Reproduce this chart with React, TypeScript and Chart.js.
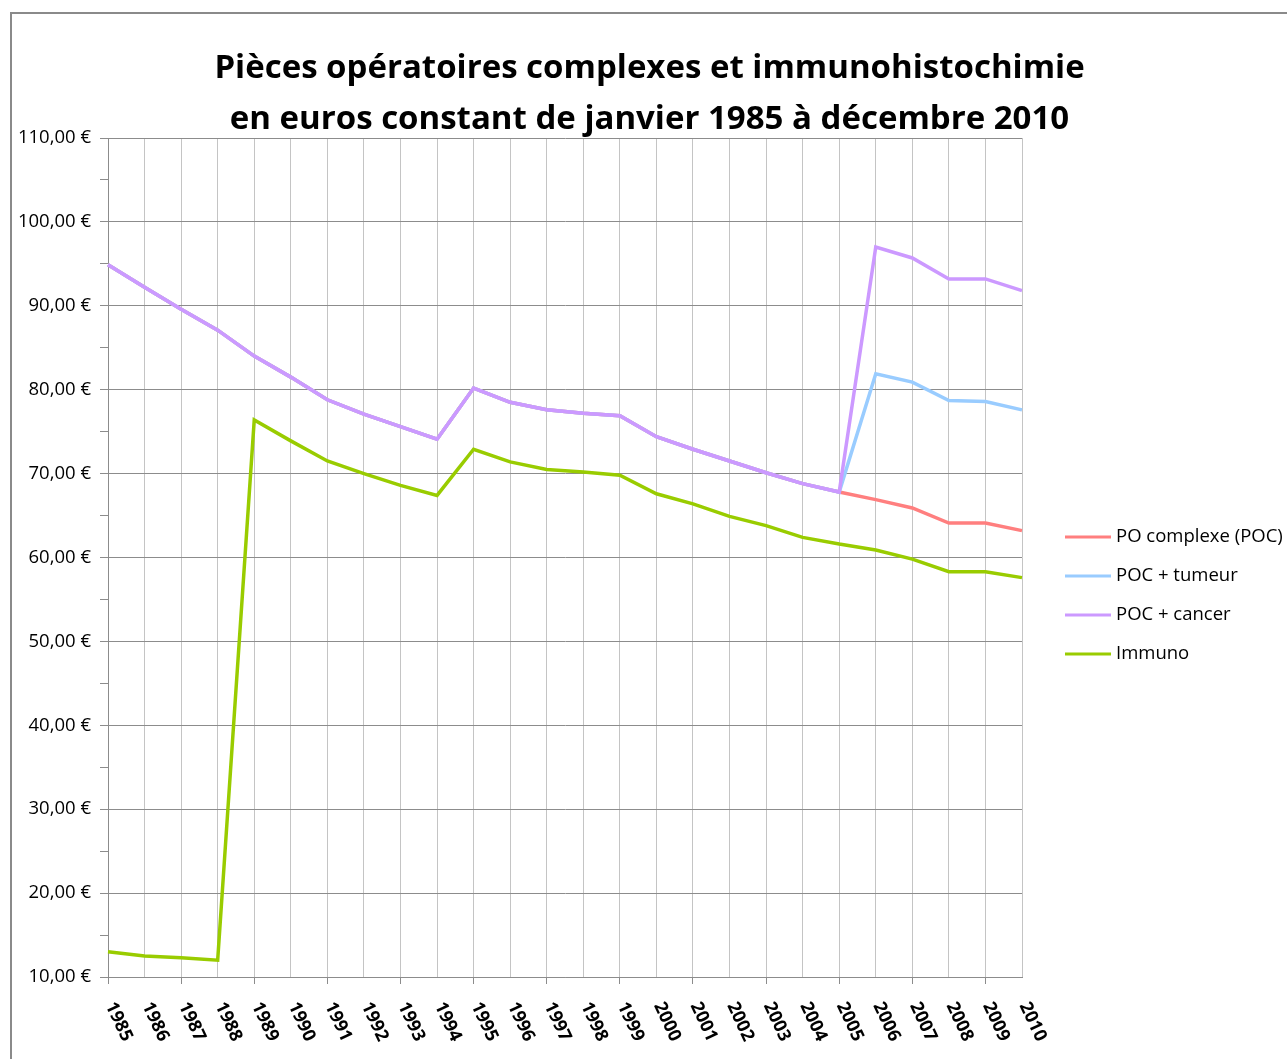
import React, { useEffect, useRef } from "react";
import { Chart, registerables } from "chart.js";

Chart.register(...registerables);

const categories = [
  "1985", "1986", "1987", "1988", "1989", "1990", "1991", "1992", "1993", "1994",
  "1995", "1996", "1997", "1998", "1999", "2000", "2001", "2002", "2003", "2004",
  "2005", "2006", "2007", "2008", "2009", "2010",
];

const pocComplexe = [
  94.9, 92.2, 89.6, 87.1, 84.0, 81.5, 78.8, 77.1, 75.6, 74.1,
  80.2, 78.5, 77.6, 77.2, 76.9, 74.4, 72.9, 71.5, 70.1, 68.8,
  67.8, 66.9, 65.9, 64.1, 64.1, 63.2,
];

const pocTumeur = [
  94.9, 92.2, 89.6, 87.1, 84.0, 81.5, 78.8, 77.1, 75.6, 74.1,
  80.2, 78.5, 77.6, 77.2, 76.9, 74.4, 72.9, 71.5, 70.1, 68.8,
  67.8, 81.9, 80.9, 78.7, 78.6, 77.6,
];

const pocCancer = [
  94.9, 92.2, 89.6, 87.1, 84.0, 81.5, 78.8, 77.1, 75.6, 74.1,
  80.2, 78.5, 77.6, 77.2, 76.9, 74.4, 72.9, 71.5, 70.1, 68.8,
  67.8, 97.0, 95.7, 93.2, 93.2, 91.8,
];

const immuno = [
  13.0, 12.5, 12.3, 12.0, 76.4, 73.9, 71.5, 70.0, 68.6, 67.4,
  72.9, 71.4, 70.5, 70.2, 69.8, 67.6, 66.4, 64.9, 63.8, 62.4,
  61.6, 60.9, 59.8, 58.3, 58.3, 57.6,
];

const seriesNames = ["PO complexe (POC)", "POC + tumeur", "POC + cancer", "Immuno"];
const seriesColors = ["#FF7F7F", "#99CCFF", "#CC99FF", "#99CC00"];

const titleLines = [
  "Pièces opératoires complexes et immunohistochimie",
  "en euros constant de janvier 1985 à décembre 2010",
];

const FONT = "'Open Sans', Lato, sans-serif";

const xLabelPlugin = {
  id: "xLabelPlugin",
  afterDraw(chart: any) {
    const xs = chart.scales.x;
    const ctx = chart.ctx;
    ctx.save();
    ctx.font = `bold 18px ${FONT}`;
    ctx.fillStyle = "#000";
    ctx.textAlign = "left";
    ctx.textBaseline = "middle";
    xs.ticks.forEach((t: any, i: number) => {
      const x = xs.getPixelForTick(i);
      ctx.save();
      ctx.translate(x + 2, xs.top + 26);
      ctx.rotate((65 * Math.PI) / 180);
      ctx.fillText(xs.getLabelForValue(t.value), 0, 0);
      ctx.restore();
    });
    ctx.restore();
  },
};

const legendPlugin = {
  id: "customLegend",
  afterDraw(chart: any) {
    const ctx = chart.ctx;
    const area = chart.chartArea;
    const x0 = area.right + 43;
    const yStart = area.top + 399;
    const gap = 39;
    ctx.save();
    ctx.font = `18.5px ${FONT}`;
    ctx.textAlign = "left";
    ctx.textBaseline = "middle";
    chart.data.datasets.forEach((ds: any, i: number) => {
      const y = yStart + i * gap;
      ctx.strokeStyle = ds.borderColor;
      ctx.lineWidth = 3;
      ctx.beginPath();
      ctx.moveTo(x0, y);
      ctx.lineTo(x0 + 46, y);
      ctx.stroke();
      ctx.fillStyle = "#000";
      ctx.fillText(ds.label, x0 + 51, y);
    });
    ctx.restore();
  },
};

export default function App() {
  const ref = useRef<HTMLCanvasElement | null>(null);

  useEffect(() => {
    if (!ref.current) return;
    const datasets = [pocComplexe, pocTumeur, pocCancer, immuno].map((d, i) => ({
      label: seriesNames[i],
      data: d,
      borderColor: seriesColors[i],
      backgroundColor: seriesColors[i],
      borderWidth: 3.5,
      pointRadius: 0,
      tension: 0,
      fill: false,
      order: 3 - i,
    }));
    const chart = new Chart(ref.current, {
      type: "line",
      data: { labels: categories, datasets },
      options: {
        responsive: false,
        animation: false,
        devicePixelRatio: 1,
        layout: { padding: 0 },
        plugins: {
          legend: { display: false },
          tooltip: { enabled: false },
          title: {
            display: true,
            text: titleLines,
            color: "#000",
            font: { family: FONT, size: 33, weight: "bold", lineHeight: "51px" } as any,
            padding: { top: 29, bottom: -7 },
          },
        },
        scales: {
          x: {
            type: "category",
            offset: false,
            afterFit: (s: any) => {
              s.height = 82;
            },
            grid: {
              display: true,
              color: "#C4C4C4",
              lineWidth: 1,
              drawTicks: true,
              tickLength: 7,
              tickColor: (c: any) => (c.index % 2 === 0 ? "#8C8C8C" : "rgba(0,0,0,0)"),
            },
            border: { display: true, color: "#8C8C8C", width: 1 },
            ticks: { display: false, autoSkip: false },
          },
          y: {
            min: 10,
            max: 110,
            afterFit: (s: any) => {
              s.width = 96;
            },
            ticks: {
              stepSize: 5,
              padding: 9,
              color: "#000",
              font: { family: FONT, size: 18.5 },
              callback: (v: any) =>
                Number(v) % 10 === 0 ? Number(v).toFixed(2).replace(".", ",") + " €" : "",
            },
            grid: {
              color: (c: any) =>
                c.tick && Number(c.tick.value) % 10 === 0 ? "#8C8C8C" : "rgba(0,0,0,0)",
              tickColor: "#8C8C8C",
              tickLength: 8,
              lineWidth: 1,
            },
            border: { display: true, color: "#8C8C8C", width: 1 },
          },
          legendSpace: {
            type: "linear",
            position: "right",
            display: true,
            afterFit: (s: any) => {
              s.width = 265;
            },
            grid: { display: false, drawTicks: false },
            border: { display: false },
            ticks: { display: false },
          },
        },
      },
      plugins: [xLabelPlugin, legendPlugin],
    });
    return () => chart.destroy();
  }, []);

  return (
    <div
      style={{
        position: "fixed",
        left: 0,
        top: 0,
        width: 1287,
        height: 1059,
        overflow: "hidden",
        background: "#fff",
      }}
    >
      <div
        style={{
          position: "absolute",
          left: 10,
          top: 12,
          width: 1300,
          height: 1080,
          border: "2px solid #8A8A8A",
          boxSizing: "border-box",
        }}
      />
      <canvas
        ref={ref}
        width={1275}
        height={1045}
        style={{ position: "absolute", left: 12, top: 14, width: 1275, height: 1045 }}
      />
    </div>
  );
}
